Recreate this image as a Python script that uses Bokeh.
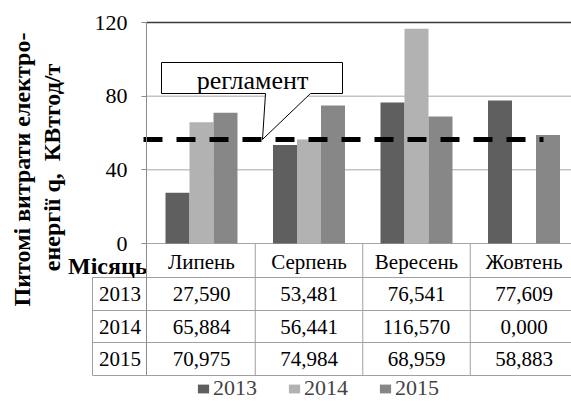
import numpy as np
from bokeh.plotting import figure
from bokeh.models import Range1d, FixedTicker, Legend, LegendItem
from bokeh.core.properties import value
from bokeh.embed import file_html
from bokeh.resources import INLINE

# ---------------- data ----------------
months = ["Липень", "Серпень", "Вересень", "Жовтень"]
years = ["2013", "2014", "2015"]
v2013 = [27.590, 53.481, 76.541, 77.609]
v2014 = [65.884, 56.441, 116.570, 0.000]
v2015 = [70.975, 74.984, 68.959, 58.883]
reglament = 56.5
y_ticks = [0, 40, 80, 120]
series = [v2013, v2014, v2015]
colors = ["#5f5f5f", "#b2b2b2", "#878787"]

# ---------------- layout helpers (picture px -> data) ----------------
W, H = 571, 401
PX_X = 107.5          # px per category
PX_Y = 221.0 / 120.0  # px per unit
X0_PAGE = 201.0       # x of first category centre
Y0_PAGE = 243.0       # y of value 0
AXIS_X = 146.0


def xd(px):
    return (px - X0_PAGE) / PX_X


def yd(py):
    return (Y0_PAGE - py) / PX_Y


SERIF = value("Liberation Serif")
GRID = "#a6a6a6"
TBL = "#a0a0a0"

p = figure(width=W, height=H, output_backend="svg", toolbar_location=None,
           x_range=Range1d(xd(0), xd(W)), y_range=Range1d(yd(H), yd(0)),
           x_axis_type=None, min_border_left=0, min_border_right=0,
           min_border_top=0, min_border_bottom=0, outline_line_color=None)
p.background_fill_color = "white"
p.border_fill_color = "white"
p.xgrid.grid_line_color = None
p.ygrid.grid_line_color = None

# y axis drawn at the category boundary
ax = p.yaxis[0]
ax.fixed_location = xd(AXIS_X)
ax.ticker = FixedTicker(ticks=y_ticks)
ax.bounds = (yd(375), max(y_ticks))
ax.axis_line_color = "#8c8c8c"
ax.major_tick_line_color = "#8c8c8c"
ax.major_tick_out = 5
ax.major_tick_in = 0
ax.minor_tick_line_color = None
ax.major_label_text_font = "Liberation Serif"
ax.major_label_text_font_size = "22px"
ax.major_label_text_color = "black"
ax.major_label_standoff = 14

# horizontal grid lines
gy = [t for t in y_ticks if t < max(y_ticks)]
p.segment(x0=[xd(AXIS_X)] * len(gy), y0=gy, x1=[xd(W)] * len(gy), y1=gy,
          line_color=GRID, line_width=1)
p.segment(x0=[xd(AXIS_X)], y0=[max(y_ticks)], x1=[xd(W)], y1=[max(y_ticks)],
          line_color="#3a3a3a", line_width=1.5)

# bars
BAR_W = 24 / PX_X
offsets = [-BAR_W, 0, BAR_W]
renderers = []
for vals, off, col in zip(series, offsets, colors):
    r = p.vbar(x=[i + off for i in range(len(months))], top=vals, width=BAR_W,
               fill_color=col, line_color=None)
    renderers.append(r)

# regulation line
p.line(x=[xd(143), xd(543)], y=[reglament, reglament], line_color="black",
       line_width=5, line_dash="19 14")

# callout
bt, bb = yd(62), yd(93)
cx = [xd(161), xd(342), xd(342), xd(310), xd(262), xd(265), xd(161)]
cy = [bt, bt, bb, bb, reglament, bb, bb]
p.patch(cx, cy, fill_color="white", line_color="black", line_width=1)
p.text(x=[xd(252)], y=[yd(80)], text=["регламент"], text_font=SERIF,
       text_font_size="26px", text_align="center", text_baseline="middle",
       text_color="black")

# ---------------- data table ----------------
row_lines = [277, 310, 342, 375]
row_centers = [293.5, 326, 358.5]
ny = len(row_lines)
# full-width row lines
p.segment(x0=[xd(AXIS_X)] * ny, y0=[yd(r) for r in row_lines], x1=[xd(W)] * ny,
          y1=[yd(r) for r in row_lines], line_color=TBL, line_width=1)
# year column lines
p.segment(x0=[xd(92)] * ny, y0=[yd(r) for r in row_lines], x1=[xd(AXIS_X)] * ny,
          y1=[yd(r) for r in row_lines], line_color=TBL, line_width=1)
p.segment(x0=[xd(92)], y0=[yd(row_lines[0])], x1=[xd(92)], y1=[yd(row_lines[-1])],
          line_color=TBL, line_width=1)
# column separators
seps = [i + 0.5 for i in range(len(months) - 1)]
p.segment(x0=seps, y0=[0] * len(seps), x1=seps, y1=[yd(row_lines[-1])] * len(seps),
          line_color=TBL, line_width=1)

p.text(x=list(range(len(months))), y=[yd(261)] * len(months), text=months,
       text_font=SERIF, text_font_size="21px", text_align="center",
       text_baseline="middle", text_color="black")
for vals, rc in zip(series, row_centers):
    txt = [f"{v:.3f}".replace(".", ",") for v in vals]
    p.text(x=list(range(len(months))), y=[yd(rc)] * len(months), text=txt,
           text_font=SERIF, text_font_size="21px", text_align="center",
           text_baseline="middle", text_color="black")

p.text(x=[xd(119.5)] * len(years), y=[yd(rc) for rc in row_centers], text=years,
       text_font=SERIF, text_font_size="21px", text_align="center",
       text_baseline="middle", text_color="black")

p.text(x=[xd(147)], y=[yd(265)], text=["Місяць"], text_font=SERIF,
       text_font_size="24px", text_font_style="bold", text_align="right",
       text_baseline="middle", text_color="black")

# y axis title (two lines)
p.text(x=[xd(21), xd(51)], y=[yd(169), yd(167)],
       text=["Питомі витрати електро-", "енергії q,\u00a0 КВтгод/т"], angle=np.pi / 2,
       text_font=SERIF, text_font_size="24px", text_font_style="bold",
       text_align="center", text_baseline="middle", text_color="black")

# legend
legend = Legend(items=[LegendItem(label=y, renderers=[r]) for y, r in zip(years, renderers)],
                orientation="horizontal", location=(196, 0), padding=0, margin=0,
                spacing=30, glyph_width=14, glyph_height=11, label_standoff=3,
                label_text_font="Liberation Serif", label_text_font_size="22px",
                border_line_color=None, background_fill_alpha=0)
p.add_layout(legend)

open("out.html", "w").write(file_html(p, INLINE))
